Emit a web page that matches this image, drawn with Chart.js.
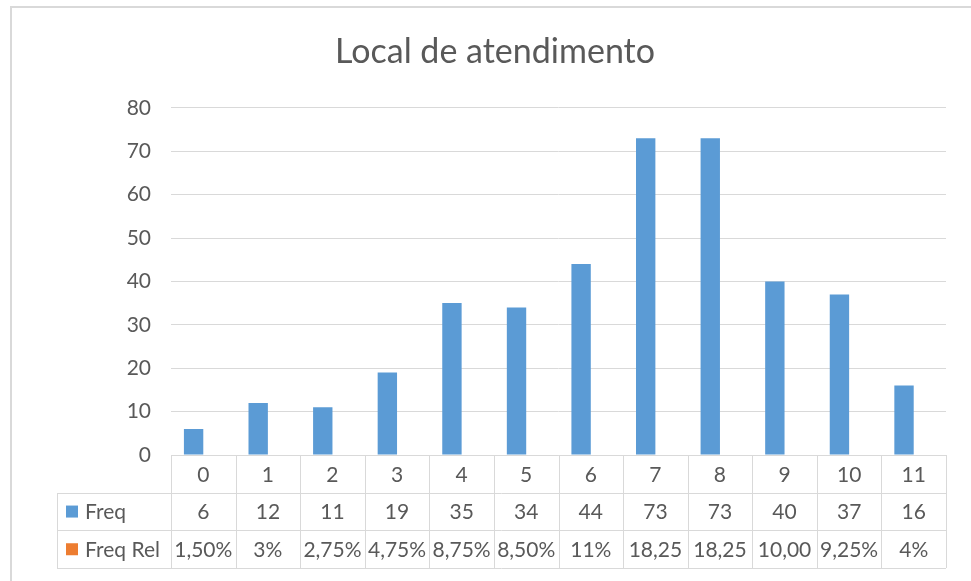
<!DOCTYPE html>
<html>
<head>
<meta charset="utf-8">
<script src="https://cdn.jsdelivr.net/npm/chart.js@4"></script>
<style>
  html, body { margin: 0; padding: 0; background: #fff; }
  #wrap { width: 971px; height: 581px; }
</style>
</head>
<body>
<div id="wrap"><canvas id="atendChart" width="971" height="581"></canvas></div>
<script>
// chart data
var categories = ['0', '1', '2', '3', '4', '5', '6', '7', '8', '9', '10', '11'];
var freq = [6, 12, 11, 19, 35, 34, 44, 73, 73, 40, 37, 16];
var freqRel = ['1,50%', '3%', '2,75%', '4,75%', '8,75%', '8,50%', '11%', '18,25', '18,25', '10,00', '9,25%', '4%'];
var seriesNames = ['Freq', 'Freq Rel'];
var seriesColors = ['#5B9BD5', '#ED7D31'];
var yMax = 80;
var yStep = 10;

var textColor = '#595959';
var lineColor = '#D9D9D9';
var fontFamily = 'Lato, "Open Sans", sans-serif';

// draws the outer frame and the data table under the plot
var dataTable = {
  id: 'dataTable',
  beforeDraw: function (chart) {
    var ctx = chart.ctx;
    ctx.save();
    ctx.strokeStyle = lineColor;
    ctx.lineWidth = 2;
    ctx.beginPath();
    ctx.moveTo(11, 581);
    ctx.lineTo(11, 7);
    ctx.lineTo(971, 7);
    ctx.stroke();
    ctx.restore();
  },
  afterDraw: function (chart) {
    var ctx = chart.ctx;
    var area = chart.chartArea;
    var xs = chart.scales.x;
    var half = (xs.getPixelForValue(1) - xs.getPixelForValue(0)) / 2;
    var rowH = 37.7;
    var top = area.bottom;
    var legLeft = 57;
    var rows = [categories, freq, freqRel];

    ctx.save();
    ctx.strokeStyle = lineColor;
    ctx.lineWidth = 1;
    ctx.beginPath();
    // horizontal lines
    ctx.moveTo(area.left, Math.round(top) + 0.5);
    ctx.lineTo(area.right, Math.round(top) + 0.5);
    for (var r = 1; r <= 3; r++) {
      var y = Math.round(top + r * rowH) + 0.5;
      ctx.moveTo(legLeft, y);
      ctx.lineTo(area.right, y);
    }
    // vertical lines
    ctx.moveTo(legLeft + 0.5, Math.round(top + rowH));
    ctx.lineTo(legLeft + 0.5, Math.round(top + 3 * rowH));
    for (var i = 0; i <= categories.length; i++) {
      var x = Math.round(xs.getPixelForValue(0) - half + i * 2 * half) + 0.5;
      ctx.moveTo(x, Math.round(top));
      ctx.lineTo(x, Math.round(top + 3 * rowH));
    }
    ctx.stroke();

    // cell texts
    ctx.fillStyle = textColor;
    ctx.font = '21px ' + fontFamily;
    ctx.textAlign = 'center';
    ctx.textBaseline = 'middle';
    for (var r2 = 0; r2 < rows.length; r2++) {
      var cy = top + r2 * rowH + rowH / 2 + 1;
      for (var c = 0; c < categories.length; c++) {
        ctx.fillText(String(rows[r2][c]), xs.getPixelForValue(c), cy);
      }
    }

    // legend keys
    ctx.textAlign = 'left';
    for (var s = 0; s < seriesNames.length; s++) {
      var ly = top + (s + 1) * rowH + rowH / 2;
      ctx.fillStyle = seriesColors[s];
      ctx.fillRect(66, ly - 6, 12, 12);
      ctx.fillStyle = textColor;
      ctx.fillText(seriesNames[s], 85, ly + 1);
    }
    ctx.restore();
  }
};

var ctx = document.getElementById('atendChart').getContext('2d');
var chart = new Chart(ctx, {
  type: 'bar',
  data: {
    labels: categories,
    datasets: [{
      label: seriesNames[0],
      data: freq,
      backgroundColor: seriesColors[0],
      categoryPercentage: 0.6,
      barPercentage: 1.0
    }, {
      // text values in the sheet, so no visible bars
      label: seriesNames[1],
      data: freqRel,
      backgroundColor: seriesColors[1],
      categoryPercentage: 0.6,
      barPercentage: 1.0
    }]
  },
  options: {
    responsive: false,
    animation: false,
    layout: {
      padding: { top: 6, left: 44, right: 25, bottom: 126 }
    },
    plugins: {
      legend: { display: false },
      tooltip: { enabled: false },
      title: {
        display: true,
        text: 'Local de atendimento',
        color: textColor,
        font: { family: fontFamily, size: 34, weight: 'normal' },
        padding: { top: 26, bottom: 35 }
      }
    },
    scales: {
      x: {
        display: false
      },
      y: {
        min: 0,
        max: yMax,
        border: { display: false },
        grid: { color: lineColor, drawTicks: false },
        ticks: {
          stepSize: yStep,
          padding: 20,
          color: textColor,
          font: { family: fontFamily, size: 21 }
        },
        afterFit: function (scale) { scale.width = 127; }
      }
    }
  },
  plugins: [dataTable]
});
</script>
</body>
</html>
